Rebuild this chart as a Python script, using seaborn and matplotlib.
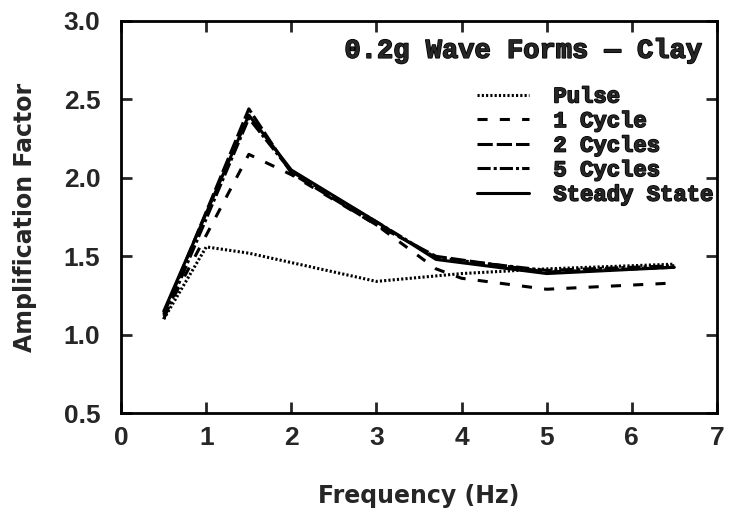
import matplotlib
matplotlib.use("Agg")
import matplotlib.pyplot as plt
import matplotlib.patheffects as pe
import seaborn as sns
import pandas as pd

# values
pulse_x = [0.5, 1.0, 1.5, 2.0, 3.0, 4.0, 5.0, 6.5]
pulse_y = [1.10, 1.56, 1.52, 1.46, 1.34, 1.39, 1.42, 1.45]

cyc1_x = [0.5, 1.5, 2.0, 3.0, 3.7, 4.0, 5.0, 6.5]
cyc1_y = [1.12, 2.15, 2.02, 1.70, 1.42, 1.36, 1.29, 1.33]

cyc2_x = [0.5, 1.5, 2.0, 3.0, 3.7, 5.0, 6.5]
cyc2_y = [1.13, 2.44, 2.03, 1.70, 1.50, 1.40, 1.43]

cyc5_x = [0.5, 1.5, 2.0, 3.0, 3.7, 5.0, 6.5]
cyc5_y = [1.10, 2.38, 2.04, 1.72, 1.49, 1.41, 1.44]

steady_x = [0.5, 1.5, 2.0, 3.0, 3.7, 5.0, 6.5]
steady_y = [1.15, 2.40, 2.05, 1.72, 1.48, 1.39, 1.43]

labels = ["Pulse", "1 Cycle", "2 Cycles", "5 Cycles", "Steady State"]
dash_styles = [(0.7, 0.7), (3.3, 4), (5, 1.3), (4.3, 1, 1, 1), ""]

x_ticks = [0, 1, 2, 3, 4, 5, 6, 7]
y_ticks = [0.5, 1.0, 1.5, 2.0, 2.5, 3.0]

sns.set_style("white")
plt.rcParams["font.family"] = ["Liberation Sans", "DejaVu Sans"]

frames = []
for lab, xs, ys in zip(labels,
                       [pulse_x, cyc1_x, cyc2_x, cyc5_x, steady_x],
                       [pulse_y, cyc1_y, cyc2_y, cyc5_y, steady_y]):
    frames.append(pd.DataFrame({"freq": xs, "amp": ys, "series": lab}))
df = pd.concat(frames, ignore_index=True)

fig = plt.figure(figsize=(7.3, 5.12), dpi=100)
ax = fig.add_axes([0.166, 0.193, 0.816, 0.766])

sns.lineplot(data=df, x="freq", y="amp", style="series", style_order=labels,
             dashes=dict(zip(labels, dash_styles)), color="black",
             linewidth=2.2, sort=False, estimator=None, legend=False, ax=ax)

ax.set_xlim(0, 7)
ax.set_ylim(0.5, 3.0)
ax.set_xticks(x_ticks)
ax.set_yticks(y_ticks)
ax.set_xticklabels([str(t) for t in x_ticks], fontsize=19, fontweight="bold")
ax.set_yticklabels([f"{t:.1f}" for t in y_ticks], fontsize=19, fontweight="bold")
ax.tick_params(direction="in", length=8, width=2, top=True, right=True,
               bottom=True, left=True)
ax.tick_params(axis="x", pad=9)
ax.tick_params(axis="y", pad=15)
for sp in ax.spines.values():
    sp.set_linewidth(2)
    sp.set_color("black")

ax.set_xlabel("Frequency (Hz)", fontsize=17, fontweight="bold",
              family=["DejaVu Sans"], labelpad=25)
ax.set_ylabel("Amplification Factor", fontsize=17, fontweight="bold",
              family=["DejaVu Sans"], labelpad=19)

# heavier strokes to imitate the plotter's bold typewriter face
heavy = [pe.withStroke(linewidth=1.1, foreground="black")]

ax.text(0.975, 0.924, "0.2g Wave Forms \u2014 Clay", transform=ax.transAxes,
        ha="right", va="center", fontsize=19.5, fontweight="bold",
        family=["Liberation Mono", "DejaVu Sans Mono"], path_effects=heavy)

handles = ax.get_lines()[:5]
leg = ax.legend(handles, labels, loc="upper right", bbox_to_anchor=(0.995, 0.833),
                frameon=False, labelspacing=0.16, handlelength=2.35,
                handletextpad=1.1, borderpad=0, borderaxespad=0,
                prop={"family": "Liberation Mono", "weight": "bold", "size": 16})
for t in leg.get_texts():
    t.set_path_effects(heavy)

fig.savefig("out.png", dpi=100)
